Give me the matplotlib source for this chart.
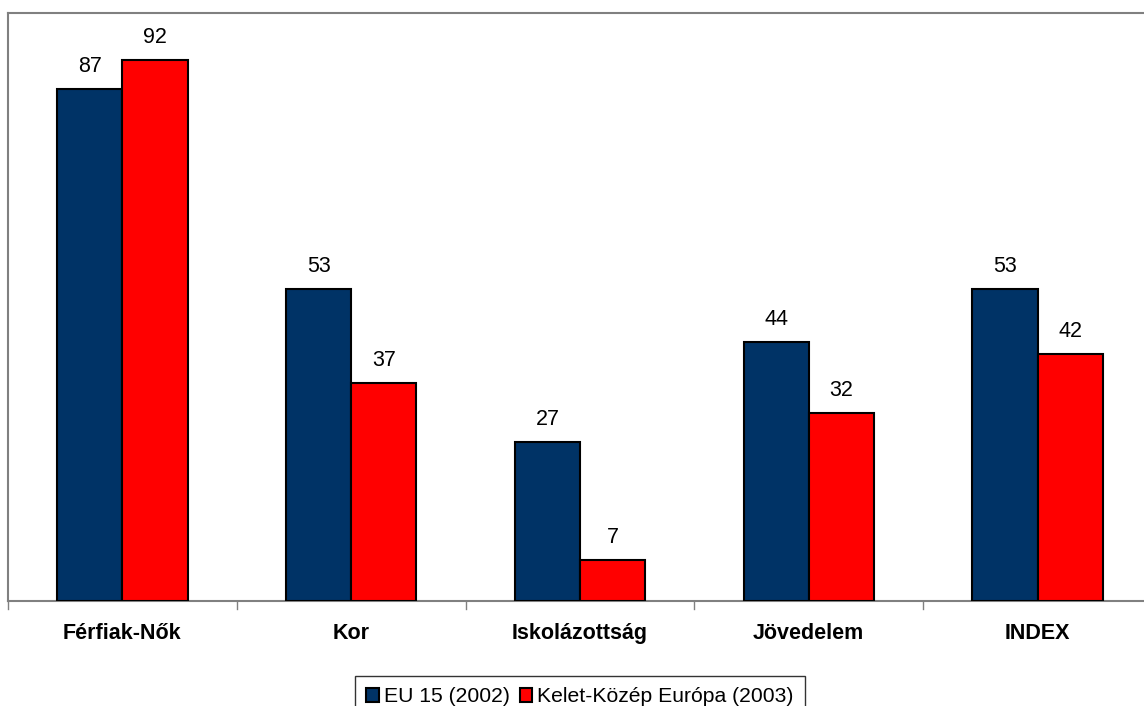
import matplotlib
matplotlib.use("Agg")
import matplotlib.pyplot as plt
import numpy as np

categories = ["Férfiak-Nők", "Kor", "Iskolázottság", "Jövedelem", "INDEX"]
eu15 = [87, 53, 27, 44, 53]
kke = [92, 37, 7, 32, 42]
series_names = ["EU 15 (2002)", "Kelet-Közép Európa (2003)"]

plt.rcParams['font.family'] = ['Liberation Sans', 'DejaVu Sans']

fig = plt.figure(figsize=(11.44, 7.06), dpi=100)
ax = fig.add_axes([8/1144, 1-601/706, 1.0, (601-13)/706])

x = np.arange(len(categories))
w = 0.285
b1 = ax.bar(x - w/2, eu15, w, color="#003366", edgecolor="black", linewidth=1.5, label=series_names[0], zorder=3)
b2 = ax.bar(x + w/2, kke, w, color="#FF0000", edgecolor="black", linewidth=1.5, label=series_names[1], zorder=3)

for bars in (b1, b2):
    for r in bars:
        ax.annotate(f"{int(r.get_height())}", (r.get_x() + r.get_width()/2, r.get_height()),
                    xytext=(0, 12), textcoords="offset pixels",
                    ha="center", va="bottom", fontsize=15.5)

ax.set_xlim(-0.5, len(categories) - 0.5)
ax.set_ylim(0, 100)
ax.set_yticks([])
ax.set_xticks(x)
ax.set_xticklabels(categories, fontsize=15.5, fontweight="bold")
ax.tick_params(axis="x", length=0, pad=16)
for xb in np.arange(len(categories) + 1) - 0.5:
    ax.plot([xb, xb], [0, -1.3], color="#808080", lw=1, clip_on=False, zorder=4)

for s in ["left", "top", "bottom", "right"]:
    ax.spines[s].set_color("#808080")
    ax.spines[s].set_linewidth(1.5)

leg = fig.legend(handles=[b1, b2], labels=series_names, loc="lower center",
                 bbox_to_anchor=(580/1144, -0.017), ncol=2, fontsize=15.2,
                 frameon=True, fancybox=False, edgecolor="black",
                 handlelength=0.6, handleheight=0.6, handletextpad=0.25,
                 columnspacing=0.45, borderpad=0.55, borderaxespad=0)
leg.get_frame().set_linewidth(1)

fig.savefig("out.png", dpi=100)
